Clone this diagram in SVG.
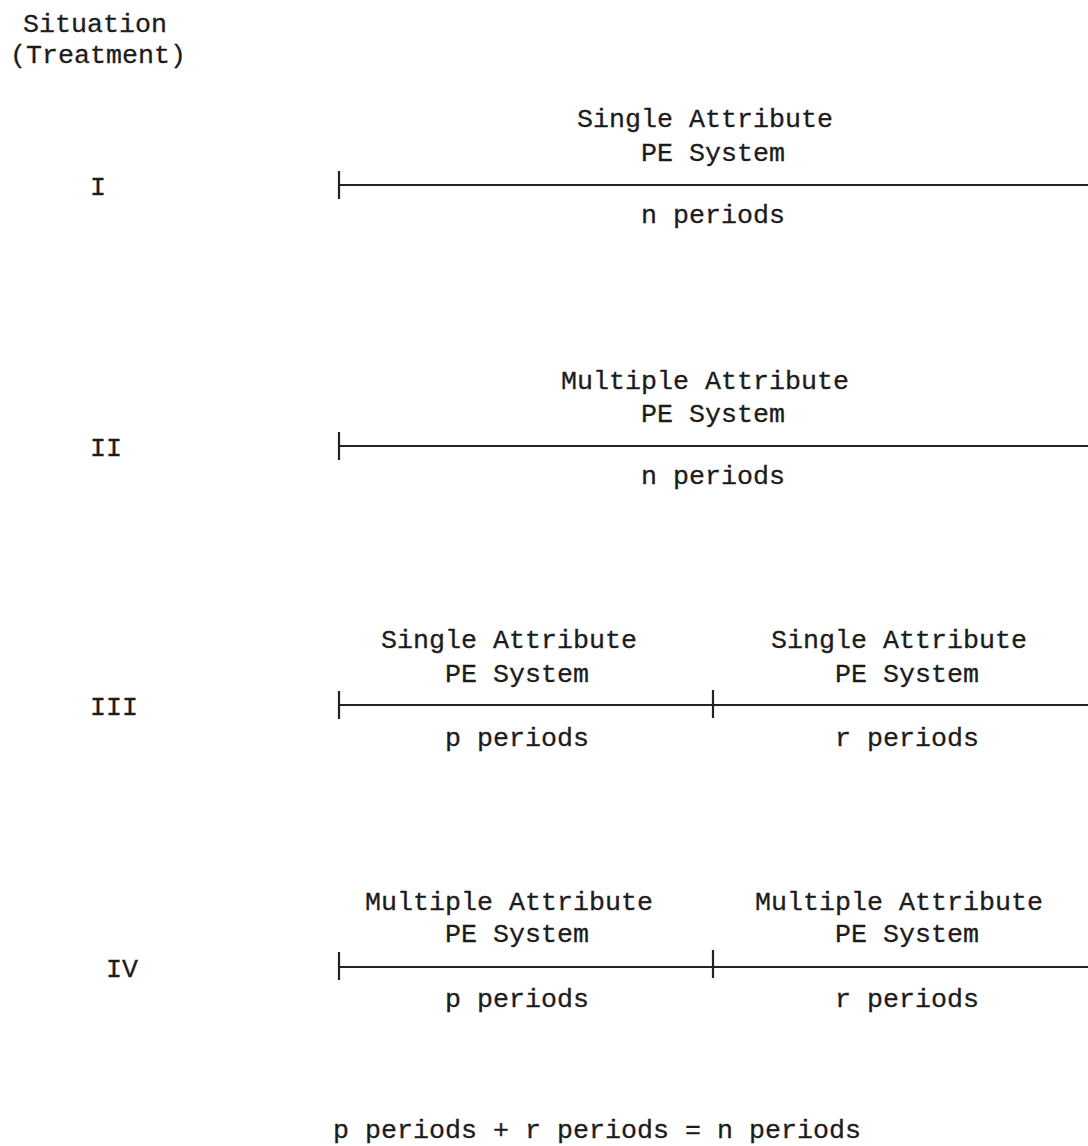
<svg xmlns="http://www.w3.org/2000/svg" width="1088" height="1146" viewBox="0 0 1088 1146">
<style>
text{font-family:"Liberation Mono","DejaVu Sans Mono",monospace;font-size:26.67px;fill:#1c1c1c;stroke:#1c1c1c;stroke-width:0.3px}
.ln{stroke:#222;stroke-width:2;fill:none}
.tk{stroke:#222;stroke-width:2.2;fill:none}
</style>
<rect width="1088" height="1146" fill="#ffffff"/>
<g id="header">
<text x="23" y="32">Situation</text>
<text x="10" y="63">(Treatment)</text>
</g>
<g id="connectors">
<line class="ln" x1="339" y1="185" x2="1088" y2="185"/>
<line class="tk" x1="339" y1="171" x2="339" y2="199"/>
<line class="ln" x1="339" y1="446" x2="1088" y2="446"/>
<line class="tk" x1="339" y1="432" x2="339" y2="460"/>
<line class="ln" x1="339" y1="705" x2="1088" y2="705"/>
<line class="tk" x1="339" y1="691" x2="339" y2="719"/>
<line class="tk" x1="713" y1="690" x2="713" y2="718"/>
<line class="ln" x1="339" y1="967" x2="1088" y2="967"/>
<line class="tk" x1="339" y1="952" x2="339" y2="980"/>
<line class="tk" x1="713" y1="950" x2="713" y2="978"/>
</g>
<g id="situation-I">
<text x="90" y="195">I</text>
<text x="577" y="127">Single Attribute</text>
<text x="641" y="161">PE System</text>
<text x="641" y="223">n periods</text>
</g>
<g id="situation-II">
<text x="90" y="456">II</text>
<text x="561" y="389">Multiple Attribute</text>
<text x="641" y="422">PE System</text>
<text x="641" y="484">n periods</text>
</g>
<g id="situation-III">
<text x="90" y="715">III</text>
<text x="381" y="648">Single Attribute</text>
<text x="445" y="682">PE System</text>
<text x="445" y="746">p periods</text>
<text x="771" y="648">Single Attribute</text>
<text x="835" y="682">PE System</text>
<text x="835" y="746">r periods</text>
</g>
<g id="situation-IV">
<text x="106" y="977">IV</text>
<text x="365" y="910">Multiple Attribute</text>
<text x="445" y="942">PE System</text>
<text x="445" y="1007">p periods</text>
<text x="755" y="910">Multiple Attribute</text>
<text x="835" y="942">PE System</text>
<text x="835" y="1007">r periods</text>
</g>
<g id="equation">
<text x="333" y="1138">p periods + r periods = n periods</text>
</g>
</svg>
